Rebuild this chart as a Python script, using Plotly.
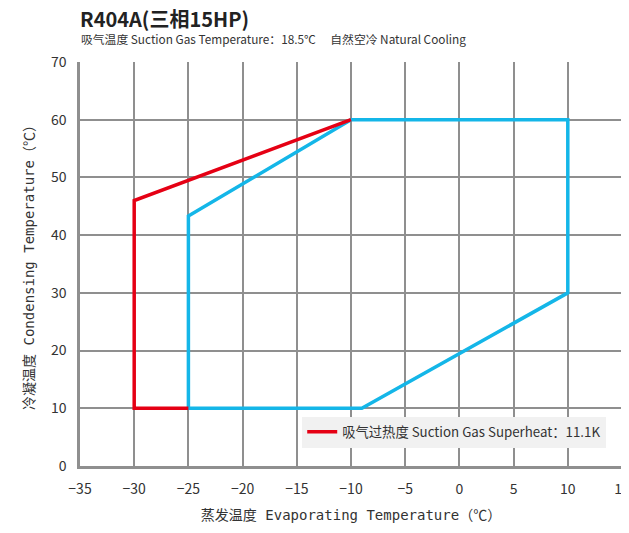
import plotly.graph_objects as go

# envelope data
red_x = [-25, -30, -30, -10]
red_y = [10, 10, 46, 60]
blue_x = [-10, -25, -25, -9, 10, 10, -10]
blue_y = [60, 43.3, 10, 10, 30, 60, 60]

x_ticks = [-35, -30, -25, -20, -15, -10, -5, 0, 5, 10, 15]
y_ticks = [0, 10, 20, 30, 40, 50, 60, 70]

cjk = "Noto Sans CJK SC, Noto Sans, sans-serif"
mono = "DejaVu Sans Mono, " + cjk
grid = "#8f8f8f"

fig = go.Figure()
fig.add_trace(go.Scatter(x=blue_x, y=blue_y, mode="lines",
                         line=dict(color="#14b6e8", width=3.5),
                         showlegend=False, hoverinfo="skip"))
fig.add_trace(go.Scatter(x=red_x, y=red_y, mode="lines",
                         line=dict(color="#e50014", width=3.5),
                         name="吸气过热度 Suction Gas Superheat：11.1K"))

# page body adds an 8px offset, so the figure is sized to fit inside the window
fig.update_layout(
    width=621, height=525,
    margin=dict(l=72, r=7, t=54, b=67, autoexpand=False),
    paper_bgcolor="white", plot_bgcolor="white",
    font=dict(family=cjk, color="#333333"),
    legend=dict(x=0.41, y=0.122, xanchor="left", yanchor="top",
                bgcolor="#f1f1f1", font=dict(size=13.3, color="#333333"),
                borderwidth=0),
    annotations=[
        dict(text="<b>R404A(三相15HP)</b>", xref="paper", yref="paper",
             x=-0.004, y=1.108, xanchor="left", yanchor="middle",
             showarrow=False, font=dict(size=20, color="#222222", family=cjk)),
        dict(text="吸气温度 Suction Gas Temperature：18.5℃　 自然空冷 Natural Cooling",
             xref="paper", yref="paper", x=-0.002, y=1.059,
             xanchor="left", yanchor="middle", showarrow=False,
             font=dict(size=11.8, color="#333333", family=cjk)),
    ],
)

fig.update_xaxes(range=[-35, 15], tickvals=x_ticks, ticks="",
                 showgrid=True, gridcolor=grid, gridwidth=2,
                 showline=True, linecolor=grid, linewidth=2.5,
                 zeroline=False, tickfont=dict(size=14, color="#333333"),
                 ticklabelstandoff=8, ticklabeloverflow="allow", automargin=False,
                 title=dict(text="蒸发温度 Evaporating Temperature（℃）",
                            font=dict(size=14, family=mono, color="#333333"),
                            standoff=14))
fig.update_yaxes(range=[0, 70], tickvals=y_ticks, ticks="",
                 showgrid=True, gridcolor=grid, gridwidth=2,
                 showline=True, linecolor=grid, linewidth=2.5,
                 zeroline=False, tickfont=dict(size=14, color="#333333"),
                 ticklabelstandoff=8, automargin=False,
                 title=dict(text="冷凝温度 Condensing Temperature（℃）",
                            font=dict(size=14, family=mono, color="#333333"),
                            standoff=14))

fig.write_html("out.html")
